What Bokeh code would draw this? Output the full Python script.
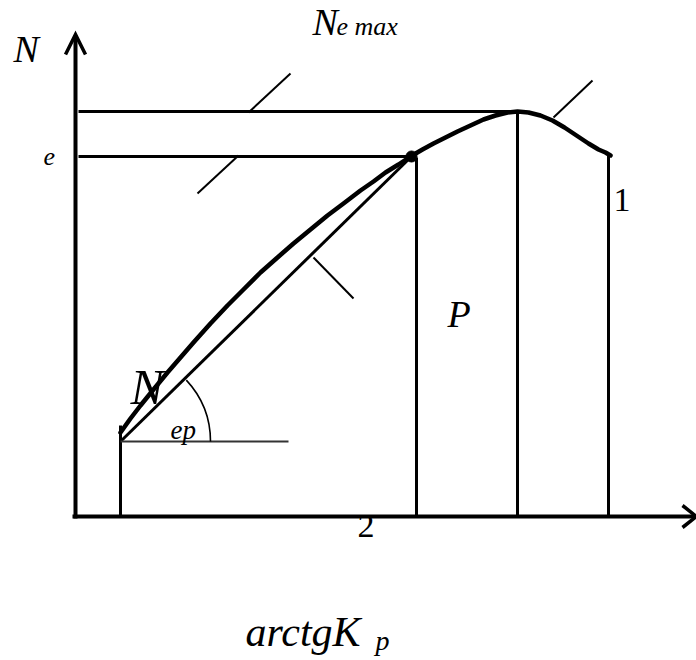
from bokeh.plotting import figure
from bokeh.models import Range1d
from bokeh.core.properties import value
from bokeh.embed import file_html
from bokeh.resources import INLINE
import math

# Effective power curve N_e against the load parameter (chart units, origin at the axes' crossing)
curve_x = [45, 55, 65, 78, 92, 105, 118, 135, 152, 168, 185, 202, 218, 235, 252, 268, 285, 298, 310, 323,
           335, 347, 358, 370, 382, 395, 408, 420, 432, 442, 453, 465, 477, 489, 501, 513, 523, 530, 535]
curve_y = [84, 98, 111, 127, 144, 159, 174, 193, 211, 227, 244, 259, 273, 287, 301, 313, 326, 335, 344, 352,
           360, 367, 373, 379, 385, 391, 397, 401, 404, 405, 404, 401, 396, 389, 381, 373, 367, 364, 361]

# characteristic points
start_x, start_y = 45, 75      # N_ep, start of the chord
rated_x, rated_y = 336, 360    # N_e, operating point
peak_x, peak_y = 442, 405      # N_e max

# vertical ordinates: abscissa and top
ord_x = [45, 341, 442, 533]
ord_top = [91, 359, 405, 362]

# horizontal level lines: level and right end
level_y = [405, 360]
level_end = [442, 335]
level_start = 3

# short leader strokes
lead_x0 = [122, 173, 478, 238]
lead_y0 = [323, 404, 399, 259]
lead_x1 = [163, 215, 517, 278]
lead_y1 = [361, 443, 436, 218]

# angle marker at the chord start
angle_ray_end = 213
angle_radius = 90
angle_deg = 43

SERIF = value("Liberation Serif")

p = figure(width=696, height=660, output_backend="svg", toolbar_location=None,
           x_range=Range1d(-75, 621), y_range=Range1d(-144, 516),
           x_axis_type=None, y_axis_type=None, min_border=0,
           background_fill_color="white", border_fill_color="white")
p.outline_line_color = None
p.grid.visible = False

# coordinate axes with arrow heads
p.line([0, 0], [-2, 481], line_width=4, color="black")
p.line([-10, 0, 10], [462, 482, 462], line_width=3.5, color="black", line_join="miter")
p.line([-3, 621], [0, 0], line_width=4, color="black")
p.line([607, 621, 607], [11, 0, -11], line_width=3.5, color="black", line_join="miter")

# level lines
p.segment(x0=[level_start] * len(level_y), y0=level_y, x1=level_end, y1=level_y,
          line_width=3, color="black")

# ordinates
p.segment(x0=ord_x, y0=[0] * len(ord_x), x1=ord_x, y1=ord_top, line_width=3, color="black")

# chord from the start point to the operating point
p.line([start_x, rated_x], [start_y, rated_y], line_width=3, color="black")

# horizontal ray and angle arc
p.line([start_x, angle_ray_end], [start_y, start_y], line_width=1.8, color="#333333")
p.arc(x=start_x, y=start_y, radius=angle_radius, start_angle=0,
      end_angle=math.radians(angle_deg), line_width=1.6, color="black")

# leader strokes
p.segment(x0=lead_x0, y0=lead_y0, x1=lead_x1, y1=lead_y1, line_width=2, color="black")

# power curve
p.line(curve_x, curve_y, line_width=4.5, color="black", line_join="round", line_cap="round")
p.scatter([rated_x], [rated_y], size=11, color="black")


# labels; y is the baseline, raised to offset the renderer's baseline shift
def label(x, y, txt, size, style="italic"):
    p.text(x=[x], y=[y + 0.37 * size], text=[txt], text_font=SERIF, text_font_size=f"{size}px",
           text_font_style=style, text_align="left", text_baseline="alphabetic",
           text_color="black")


label(-62, 453, "N", 38)
label(-32, 350, "e", 26)
label(237, 480, "N", 38)
label(261, 480, "e max", 26)
label(538, 304, "1", 34, "normal")
label(372, 188, "P", 38)
label(55, 111, "N", 50)
label(95, 77, "ep", 27)
label(282, -22, "2", 34, "normal")
label(170, -131, "arctgK", 42)
label(300, -134, "p", 28)

open("out.html", "w").write(file_html(p, INLINE))
